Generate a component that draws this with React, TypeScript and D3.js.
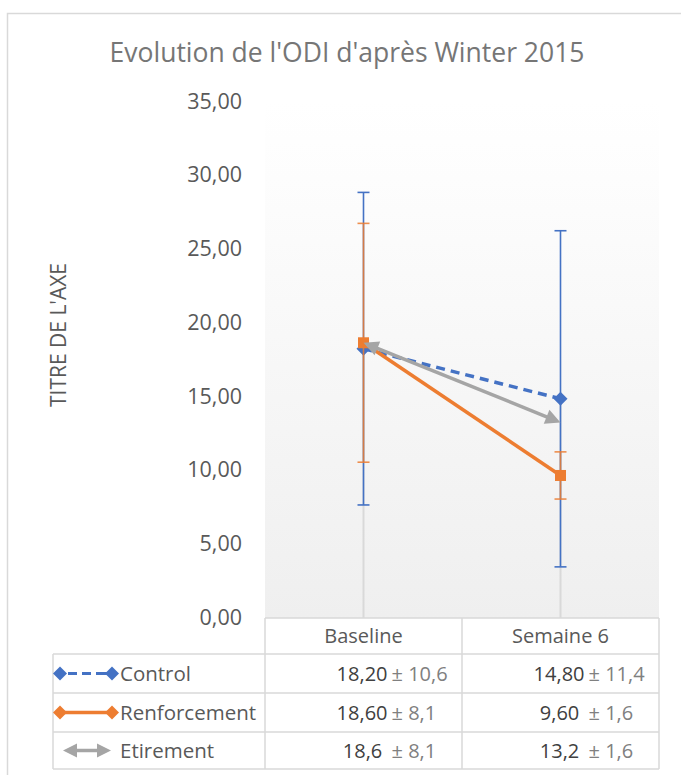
import React from "react";
import * as d3 from "d3";

const title = "Evolution de l'ODI d'après Winter 2015";
const yAxisTitle = "TITRE DE L'AXE";
const categories = ["Baseline", "Semaine 6"];
const seriesNames = ["Control", "Renforcement", "Etirement"];
const controlMeans = [18.2, 14.8];
const controlSd = [10.6, 11.4];
const renfMeans = [18.6, 9.6];
const renfSd = [8.1, 1.6];
const etirMeans = [18.6, 13.2];
const yTicks = [0, 5, 10, 15, 20, 25, 30, 35];
const controlMeanLabels = ["18,20", "14,80"];
const controlSdLabels = ["± 10,6", "± 11,4"];
const renfMeanLabels = ["18,60", "9,60 "];
const renfSdLabels = ["± 8,1", "± 1,6"];
const etirMeanLabels = ["18,6 ", "13,2 "];
const etirSdLabels = ["± 8,1", "± 1,6"];

const BLUE = "#4472c4";
const ORANGE = "#ed7d31";
const GRAY = "#a5a5a5";
const TEXT = "#595959";
const GRID = "#d9d9d9";
const FONT = "'Open Sans', 'Noto Sans', sans-serif";

const plotLeft = 265;
const plotRight = 659;
const plotTop = 101;
const plotBottom = 617;
const tableTop = 618;
const headerBottom = 654;
const rowLines = [654, 693, 732, 769];
const tableLeft = 53;

const y = d3.scaleLinear().domain([0, 35]).range([plotBottom, plotTop]);
const x = d3.scalePoint<string>().domain(categories).range([plotLeft, plotRight]).padding(0.5);

const fmt = (v: number) => d3.format(".2f")(v).replace(".", ",");

function diamond(cx: number, cy: number, r: number) {
  return `M${cx},${cy - r}L${cx + r},${cy}L${cx},${cy + r}L${cx - r},${cy}Z`;
}

function arrowHead(tx: number, ty: number, fx: number, fy: number, len: number, hw: number) {
  const dx = tx - fx;
  const dy = ty - fy;
  const d = Math.hypot(dx, dy);
  const ux = dx / d;
  const uy = dy / d;
  const bx = tx - ux * len;
  const by = ty - uy * len;
  return `M${tx},${ty}L${bx - uy * hw},${by + ux * hw}L${bx + uy * hw},${by - ux * hw}Z`;
}

function DoubleArrow({ x0, y0, x1, y1, color, width, len, hw }: any) {
  const d = Math.hypot(x1 - x0, y1 - y0);
  const ux = (x1 - x0) / d;
  const uy = (y1 - y0) / d;
  return (
    <g>
      <line
        x1={x0 + ux * (len - 2)}
        y1={y0 + uy * (len - 2)}
        x2={x1 - ux * (len - 2)}
        y2={y1 - uy * (len - 2)}
        stroke={color}
        strokeWidth={width}
      />
      <path d={arrowHead(x0, y0, x1, y1, len, hw)} fill={color} />
      <path d={arrowHead(x1, y1, x0, y0, len, hw)} fill={color} />
    </g>
  );
}

function ErrorBars({ means, sds, color, opacity }: any) {
  return (
    <g stroke={color} strokeWidth={1.6} opacity={opacity}>
      {categories.map((c, i) => {
        const cx = x(c)!;
        const top = y(means[i] + sds[i]);
        const bot = y(means[i] - sds[i]);
        return (
          <g key={c}>
            <line x1={cx} x2={cx} y1={top} y2={bot} />
            <line x1={cx - 6} x2={cx + 6} y1={top} y2={top} />
            <line x1={cx - 6} x2={cx + 6} y1={bot} y2={bot} />
          </g>
        );
      })}
    </g>
  );
}

export default function App() {
  const line = d3
    .line<number>()
    .x((_, i) => x(categories[i])!)
    .y((d) => y(d));

  const rowCenters = [0, 1, 2].map((i) => (rowLines[i] + rowLines[i + 1]) / 2);
  const meanLabels = [controlMeanLabels, renfMeanLabels, etirMeanLabels];
  const sdLabels = [controlSdLabels, renfSdLabels, etirSdLabels];
  const dropTops = categories.map((_, i) => Math.max(controlMeans[i], renfMeans[i], etirMeans[i]));

  return (
    <svg
      width={681}
      height={775}
      style={{ position: "absolute", left: 0, top: 0, background: "#fff" }}
      fontFamily={FONT}
    >
      <defs>
        <linearGradient id="bg" x1="0" y1="0" x2="0" y2="1">
          <stop offset="0" stopColor="#ffffff" />
          <stop offset="0.15" stopColor="#fdfdfd" />
          <stop offset="1" stopColor="#efefef" />
        </linearGradient>
      </defs>
      <rect x={7.5} y={13.5} width={700} height={800} fill="#fff" stroke={GRID} strokeWidth={1.5} />

      {/* plot area */}
      <rect x={plotLeft} y={plotTop} width={plotRight - plotLeft} height={tableTop - plotTop} fill="url(#bg)" />

      {/* title */}
      <text x={347} y={62} textAnchor="middle" fontSize={26.5} fill="#767676">
        {title}
      </text>

      {/* y tick labels */}
      {yTicks.map((t) => (
        <text key={t} x={242} y={y(t)} dy="0.36em" textAnchor="end" fontSize={21.5} fill={TEXT}>
          {fmt(t)}
        </text>
      ))}

      {/* y axis title */}
      <text
        transform={`translate(58,335) rotate(-90)`}
        textAnchor="middle"
        dy="0.36em"
        fontSize={21}
        fill={TEXT}
      >
        {yAxisTitle}
      </text>

      {/* drop lines */}
      {categories.map((c, i) => (
        <line key={c} x1={x(c)} x2={x(c)} y1={y(dropTops[i])} y2={tableTop} stroke={GRID} strokeWidth={2} />
      ))}

      {/* Control */}
      <ErrorBars means={controlMeans} sds={controlSd} color={BLUE} opacity={1} />
      <path d={line(controlMeans)!} fill="none" stroke={BLUE} strokeWidth={3.5} strokeDasharray="9,6" />
      {controlMeans.map((v, i) => (
        <path key={i} d={diamond(x(categories[i])!, y(v), 7)} fill={BLUE} />
      ))}

      {/* Renforcement */}
      <ErrorBars means={renfMeans} sds={renfSd} color={ORANGE} opacity={0.85} />
      <path d={line(renfMeans)!} fill="none" stroke={ORANGE} strokeWidth={3.5} />
      {renfMeans.map((v, i) => (
        <rect key={i} x={x(categories[i])! - 5.5} y={y(v) - 5.5} width={11} height={11} fill={ORANGE} />
      ))}

      {/* Etirement */}
      <DoubleArrow
        x0={x(categories[0])!}
        y0={y(etirMeans[0])}
        x1={x(categories[1])!}
        y1={y(etirMeans[1])}
        color={GRAY}
        width={3.5}
        len={15}
        hw={7.5}
      />

      {/* data table */}
      <g stroke={GRID} strokeWidth={1.5} fill="none">
        <line x1={plotLeft} x2={plotRight} y1={tableTop} y2={tableTop} />
        {rowLines.map((ry) => (
          <line key={ry} x1={tableLeft} x2={plotRight} y1={ry} y2={ry} />
        ))}
        <line x1={tableLeft} x2={tableLeft} y1={rowLines[0]} y2={rowLines[3]} />
        <line x1={plotLeft} x2={plotLeft} y1={tableTop} y2={rowLines[3]} />
        <line x1={462} x2={462} y1={tableTop} y2={rowLines[3]} />
        <line x1={plotRight} x2={plotRight} y1={tableTop} y2={rowLines[3]} />
      </g>

      {categories.map((c) => (
        <text key={c} x={x(c)} y={(tableTop + headerBottom) / 2} dy="0.36em" textAnchor="middle" fontSize={20} fill={TEXT}>
          {c}
        </text>
      ))}

      {seriesNames.map((s, r) => (
        <text key={s} x={120} y={rowCenters[r]} dy="0.36em" fontSize={20.5} fill={TEXT}>
          {s}
        </text>
      ))}

      {/* legend keys */}
      <line x1={60} x2={112} y1={rowCenters[0]} y2={rowCenters[0]} stroke={BLUE} strokeWidth={3} strokeDasharray="0,8,9,5,9,5,9" />
      <path d={diamond(60, rowCenters[0], 7)} fill={BLUE} />
      <path d={diamond(112, rowCenters[0], 7)} fill={BLUE} />
      <line x1={60} x2={112} y1={rowCenters[1]} y2={rowCenters[1]} stroke={ORANGE} strokeWidth={3.5} />
      <path d={diamond(60, rowCenters[1], 7)} fill={ORANGE} />
      <path d={diamond(112, rowCenters[1], 7)} fill={ORANGE} />
      <DoubleArrow x0={63} y0={rowCenters[2]} x1={111} y1={rowCenters[2]} color={GRAY} width={3.5} len={14} hw={7} />

      {/* table values */}
      {meanLabels.map((row, r) =>
        categories.map((c, i) => (
          <g key={`${r}-${i}`}>
            <text
              x={x(c)! + 24}
              y={rowCenters[r]}
              dy="0.36em"
              textAnchor="end"
              fontSize={20}
              fill="#404040"
              style={{ whiteSpace: "pre" }}
            >
              {row[i]}
            </text>
            <text x={x(c)! + 28} y={rowCenters[r]} dy="0.36em" fontSize={20} fill="#808080">
              {sdLabels[r][i]}
            </text>
          </g>
        ))
      )}
    </svg>
  );
}
